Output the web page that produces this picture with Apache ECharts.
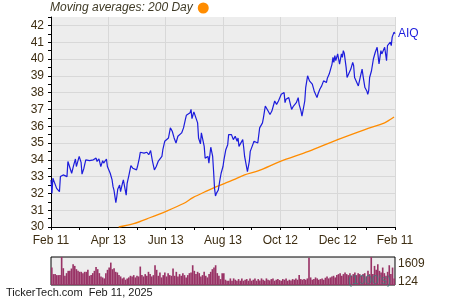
<!DOCTYPE html>
<html><head><meta charset="utf-8">
<script src="https://cdn.jsdelivr.net/npm/echarts@6/dist/echarts.min.js"></script>
<style>html,body{margin:0;padding:0;background:#fff}#c{width:450px;height:300px}</style>
</head><body><div id="c"></div>
<script>
// x tick labels (axis spans Feb 11, 2024 .. Feb 11, 2025, day offsets 0..366)
const xTickLabels = ['Feb 11','Apr 13','Jun 13','Aug 13','Oct 12','Dec 12','Feb 11'];

// AIQ closing prices (day offset, value)
const priceDays = [0,1,2,4,6,9,10,13,15,17,18,20,22,24,26,27,28,30,32,33,35,37,39,41,45,48,49,51,53,55,56,59,60,62,63,65,66,67,69,70,71,73,74,76,77,79,80,81,83,85,87,88,91,92,94,95,97,99,101,102,104,106,108,110,111,112,114,116,118,119,121,123,125,126,127,129,131,133,135,137,139,141,143,144,146,148,149,150,152,154,156,157,159,160,161,163,164,166,167,168,169,170,172,173,174,175,176,177,178,180,181,182,183,184,186,188,189,191,192,194,196,198,199,200,202,204,205,206,207,209,211,212,214,216,218,220,222,223,225,226,227,228,229,231,232,233,235,237,238,240,242,243,245,247,248,249,250,252,253,254,256,258,260,261,263,264,266,267,268,269,270,271,273,274,275,276,278,280,281,283,284,286,288,290,292,293,294,296,298,299,300,301,302,303,305,306,307,309,310,311,312,314,315,317,319,321,322,323,325,327,329,331,332,334,336,337,338,339,341,343,345,347,348,349,351,352,354,355,357,358,360,361,362,363,365,366];
const priceValues = [32.8,32.0,32.9,33.0,32.3,32.1,33.0,33.1,33.2,33.0,33.9,33.9,33.2,33.65,34.05,33.6,33.8,34.2,33.85,33.15,33.5,34.0,33.97,33.95,34.0,34.1,33.9,34.05,33.6,33.95,33.8,34.05,33.6,33.55,33.2,32.8,32.4,32.2,31.45,31.8,32.25,32.5,32.1,32.6,32.8,32.2,31.9,32.6,33.1,33.65,33.5,33.4,33.4,33.6,34.1,34.45,34.4,34.4,34.3,34.45,34.3,34.55,33.9,33.4,33.3,33.6,33.9,34.05,34.2,34.6,35.1,35.2,35.3,35.6,35.9,35.7,35.3,35.0,35.4,35.5,35.6,35.9,36.4,36.65,36.7,36.8,37.0,36.45,36.85,36.85,36.2,35.3,34.95,35.6,35.5,34.8,34.1,34.05,34.2,33.8,33.9,34.75,34.2,33.3,32.3,31.85,32.0,31.9,32.2,32.9,33.2,33.3,33.6,34.0,34.6,34.9,35.5,35.45,35.5,35.2,35.4,35.1,35.3,34.8,34.75,35.2,34.75,34.2,34.2,33.3,33.9,34.5,34.8,35.1,35.2,35.0,35.9,35.85,36.2,36.5,36.6,37.2,37.3,36.9,37.0,36.7,36.9,36.85,37.5,37.3,37.5,37.6,37.9,38.0,38.0,37.4,37.6,37.5,37.7,37.6,37.0,37.2,37.25,37.4,37.7,37.3,36.9,36.6,36.9,37.0,37.5,38.3,39.0,39.0,38.7,38.8,38.5,38.1,38.1,37.7,37.9,38.2,38.4,38.7,38.8,38.6,38.85,39.1,39.15,39.7,40.1,39.8,40.2,39.9,40.3,40.0,39.7,40.3,40.1,40.5,40.35,39.5,38.9,39.0,39.4,39.8,39.6,38.9,38.8,38.4,38.9,39.4,39.0,38.3,38.1,37.9,38.1,38.9,39.3,40.0,40.4,40.7,40.7,39.7,40.5,40.3,40.4,40.7,39.9,40.8,40.9,41.0,40.8,41.3,41.6,41.5];

// 200-day moving average (day offset, value)
const maDays = [72,88,105,123,141,151,166,176,185,196,206,221,244,274,305,334,355,361,365];
const maValues = [30.0,30.2,30.55,30.95,31.4,31.75,32.15,32.4,32.6,32.85,33.1,33.35,33.9,34.5,35.2,35.8,36.2,36.4,36.55];

// volume (1000's)
const volumes = [1050,701,701,648,648,648,1609,1015,613,753,875,875,998,1225,1137,963,875,823,823,753,823,823,928,613,648,753,875,1085,963,753,578,526,473,753,928,1050,1312,963,1015,823,788,648,578,473,526,404,473,526,613,578,648,526,613,578,1102,648,578,701,613,823,701,578,648,1172,928,613,788,526,648,788,578,753,648,613,998,613,823,578,701,613,753,648,526,648,753,788,1172,875,701,823,753,578,648,823,613,526,701,823,963,1050,1172,753,613,438,753,753,
404,351,351,473,351,473,404,351,438,351,473,351,404,438,351,473,351,404,473,351,438,369,473,404,351,473,404,369,438,473,351,404,438,386,351,438,404,473,351,404,369,438,404,473,404,648,438,404,438,404,473,1574,526,404,438,526,473,404,438,473,404,508,578,473,526,578,613,526,648,701,753,613,701,788,701,648,753,613,701,788,648,753,701,613,701,753,578,875,701,1609,701,1137,928,1225,875,788,1050,753,613,823,1172,701,1050,473];
const volTickValues = [124, 1609];

const FONT = 'Liberation Sans, Arial, sans-serif';
const LABEL = '#3d2d12';
const BLUE = '#1c1cdc';
const ORANGE = '#ff8c00';

const chart = echarts.init(document.getElementById('c'), null, {renderer:'canvas'});
chart.setOption({
  animation: false,
  textStyle: {fontFamily: FONT},
  title: [{
    text: 'TickerTech.com  Feb 11, 2025', left: 6, top: 287, padding: 0,
    textStyle: {fontSize: 11, fontWeight: 'normal', color: '#1a1a1a', fontFamily: FONT}
  }],
  legend: {
    data: ['Moving averages: 200 Day'], left: 50, top: 2, padding: 0,
    icon: 'circle', itemWidth: 11, itemHeight: 11, align: 'right',
    selectedMode: false,
    textStyle: {fontStyle: 'italic', fontSize: 12, color: '#3f3a26', fontFamily: FONT}
  },
  graphic: [{
    type: 'text', left: 348, top: 275, z: 100, zlevel: 1,
    style: {text: "(1000's)", fill: '#3f7a7a', opacity: 0.8, font: '12px ' + FONT}
  }],
  grid: [
    {left: 51, top: 17, width: 344, height: 210, show: true, backgroundColor: '#ededed', borderWidth: 0},
    {left: 51, top: 257, width: 344, height: 28, show: true, backgroundColor: '#ededed', borderWidth: 1, borderColor: '#000'}
  ],
  xAxis: [{
    type: 'value', gridIndex: 0, min: 0, max: 366, interval: 61,
    axisLine: {lineStyle: {color: '#000', width: 1}},
    axisTick: {show: true, length: 3, lineStyle: {color: '#000'}},
    minorTick: {show: true, splitNumber: 2, length: 3, lineStyle: {color: '#000'}},
    splitLine: {show: true, lineStyle: {color: '#d8d8d8', width: 1}},
    axisLabel: {color: LABEL, fontSize: 12, margin: 8, formatter: v => xTickLabels[Math.round(v / 61)] || ''}
  }, {
    type: 'category', gridIndex: 1, data: volumes.map((v, i) => i), show: false, boundaryGap: true
  }],
  yAxis: [{
    type: 'value', gridIndex: 0, min: 30, max: 42.5, interval: 0.5,
    axisLine: {show: true, lineStyle: {color: '#000', width: 1}},
    axisTick: {show: true, length: 3, lineStyle: {color: '#000'}},
    splitLine: {show: true, lineStyle: {color: ['#d8d8d8', 'rgba(0,0,0,0)'], width: 1}},
    axisLabel: {color: LABEL, fontSize: 12, margin: 7, formatter: v => Number.isInteger(v) ? String(v) : ''}
  }, {
    type: 'value', gridIndex: 1, position: 'right', min: volTickValues[0], max: volTickValues[1],
    interval: volTickValues[1] - volTickValues[0],
    axisLine: {show: false}, axisTick: {show: false}, splitLine: {show: false},
    axisLabel: {
      margin: 3, color: LABEL, fontSize: 12,
      formatter: v => v === volTickValues[1] ? '{hi|' + v + '}' : '{lo|' + v + '}',
      rich: {
        hi: {padding: [13, 0, 0, 0], color: LABEL, fontSize: 12, fontFamily: FONT},
        lo: {padding: [0, 0, 7, 0], color: LABEL, fontSize: 12, fontFamily: FONT}
      }
    }
  }],
  series: [{
    name: 'Moving averages: 200 Day', type: 'line', xAxisIndex: 0, yAxisIndex: 0,
    data: maDays.map((d, i) => [d, maValues[i]]),
    showSymbol: false, symbol: 'none', color: ORANGE, smooth: 0.3,
    itemStyle: {color: ORANGE},
    lineStyle: {color: ORANGE, width: 1.3}, z: 2
  }, {
    name: 'AIQ', type: 'line', xAxisIndex: 0, yAxisIndex: 0,
    data: priceDays.map((d, i) => [d, priceValues[i]]),
    showSymbol: false, symbol: 'none', color: BLUE,
    lineStyle: {color: BLUE, width: 1.2}, z: 3,
    endLabel: {show: true, formatter: 'AIQ', color: BLUE, fontSize: 12, distance: 3, fontFamily: FONT}
  }, {
    name: 'Volume', type: 'bar', xAxisIndex: 1, yAxisIndex: 1,
    data: volumes, barWidth: '100%', barCategoryGap: '0%',
    itemStyle: {color: '#993366'}, silent: true
  }]
});
</script>
</body></html>
